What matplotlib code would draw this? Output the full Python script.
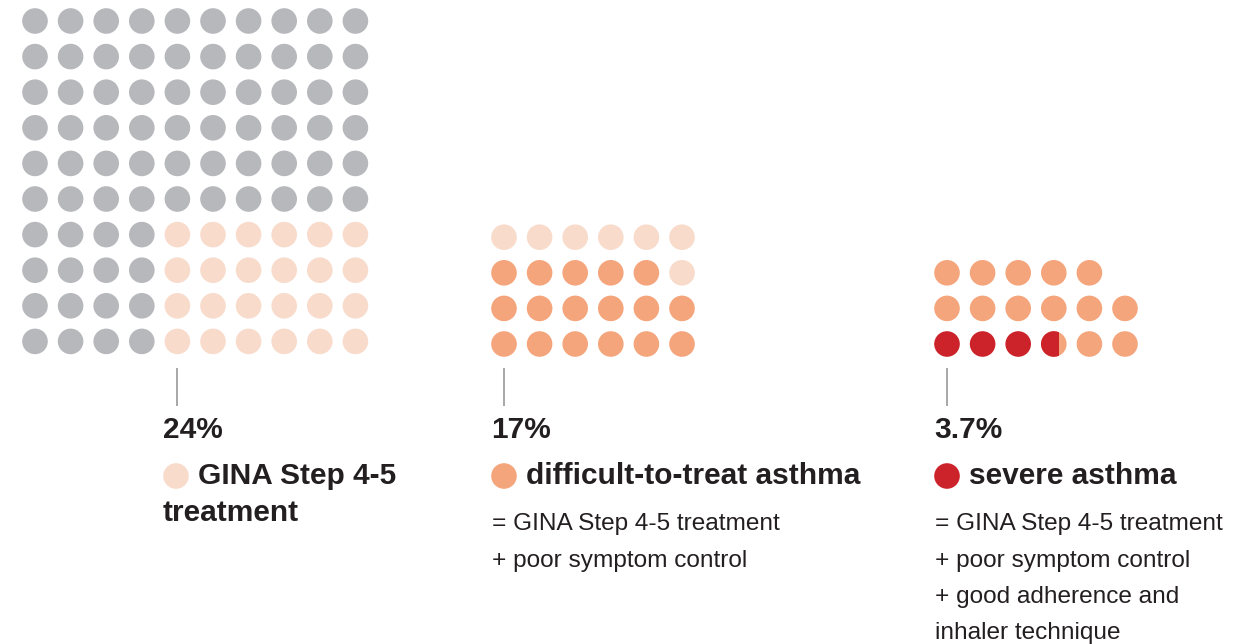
import matplotlib.pyplot as plt
from matplotlib.patches import Circle, Rectangle

# Population waffle: 10 x 10 dots, one dot = 1 %
pop_rows, pop_cols = 10, 10
step45_pct = 24          # GINA Step 4-5 treatment
step45_cols, step45_rows = 6, 4

# Zoomed groups (dots fill from bottom-left upward)
difficult_pct = 17       # difficult-to-treat asthma, out of the 24 step 4-5 dots
severe_pct = 3.7         # severe asthma, out of the 17 difficult dots

pct_labels = ['24%', '17%', '3.7%']
headings = ['GINA Step 4-5\ntreatment', 'difficult-to-treat asthma', 'severe asthma']
notes = [
    [],
    ['= GINA Step 4-5 treatment', '+ poor symptom control'],
    ['= GINA Step 4-5 treatment', '+ poor symptom control',
     '+ good adherence and', 'inhaler technique'],
]

GRAY = '#b7b8bc'
PEACH = '#f8dbcb'
ORANGE = '#f5a57c'
RED = '#cc2229'
INK = '#231f20'

STEP = 35.6
R = 12.8

fig = plt.figure(figsize=(12.53, 6.44), dpi=100)
ax = fig.add_axes([0, 0, 1, 1])
ax.set_xlim(0, 1253)
ax.set_ylim(644, 0)
ax.set_aspect('equal')
ax.axis('off')


def dot(x, y, color):
    ax.add_patch(Circle((x, y), R, color=color, lw=0))


# first waffle
x0, y0 = 35, 21
for r in range(pop_rows):
    for c in range(pop_cols):
        hit = r >= pop_rows - step45_rows and c >= pop_cols - step45_cols
        dot(x0 + c * STEP, y0 + r * STEP, PEACH if hit else GRAY)

# second group: the 24 step 4-5 dots, 6 per row, filled from the bottom
x0, ybot = 504, 344
for i in range(step45_pct):
    r, c = divmod(i, 6)
    dot(x0 + c * STEP, ybot - r * STEP, ORANGE if i < difficult_pct else PEACH)

# third group: the 17 difficult dots, severe share in red
x0, ybot = 947, 344
for i in range(difficult_pct):
    r, c = divmod(i, 6)
    x, y = x0 + c * STEP, ybot - r * STEP
    if i + 1 <= severe_pct:
        dot(x, y, RED)
    else:
        dot(x, y, ORANGE)
        frac = severe_pct - i
        if frac > 0:
            clip = Circle((x, y), R, transform=ax.transData)
            part = Rectangle((x - R, y - R), 2 * R * frac, 2 * R, color=RED, lw=0)
            ax.add_patch(part)
            part.set_clip_path(clip)

# pointer ticks and labels
tick_x = [177, 504, 947]
text_x = [163, 491, 934]
bold = dict(fontsize=21.5, fontweight='bold', family='Liberation Sans',
            color=INK, va='baseline', ha='left')
for k in range(3):
    ax.plot([tick_x[k], tick_x[k]], [368, 406], color='#a0a0a0', lw=1.3,
            solid_capstyle='butt')
    ax.text(text_x[k], 438, pct_labels[k], **bold)
    ax.add_patch(Circle((text_x[k] + 13, 476), R,
                        color=[PEACH, ORANGE, RED][k], lw=0))
    lines = headings[k].split('\n')
    ax.text(text_x[k] + 35, 484, lines[0], **bold)
    for j, extra in enumerate(lines[1:]):
        ax.text(text_x[k], 521 + 37 * j, extra, **bold)
    for j, note in enumerate(notes[k]):
        ax.text(text_x[k] + 1, 530 + 36.5 * j, note, fontsize=17.6,
                family='Liberation Sans', color=INK,
                va='baseline', ha='left')

fig.savefig('out.png', dpi=100, facecolor='white')
